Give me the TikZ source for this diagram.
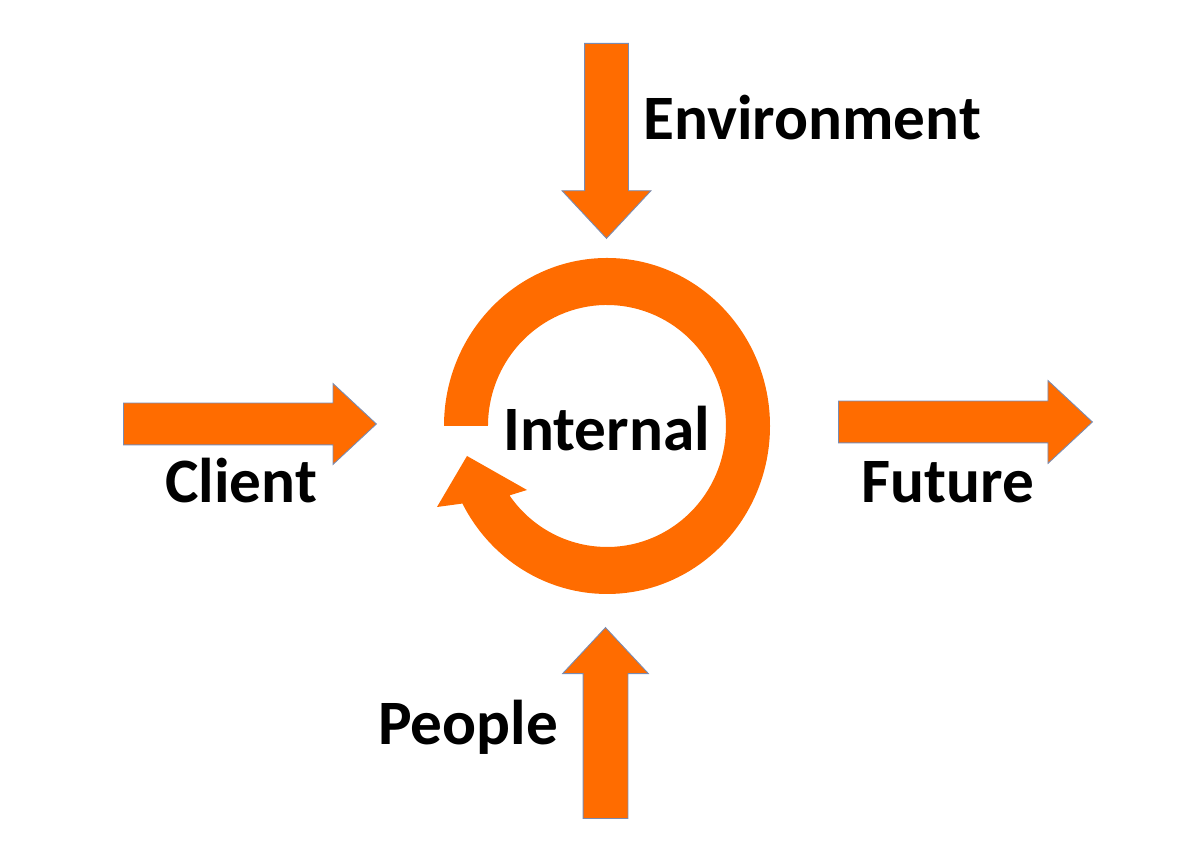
\documentclass[tikz,border=0pt]{standalone}
\usepackage{fontspec}
\setmainfont{Carlito}
\usetikzlibrary{shapes.arrows,positioning}
\definecolor{flow}{RGB}{255,108,0}
\definecolor{flowedge}{RGB}{120,140,180}

\begin{document}
\begin{tikzpicture}[x=0.02cm, y=0.02cm,
        block/.style={single arrow, anchor=tail, fill=flow, draw=flowedge, line width=0.5pt,
          inner xsep=0pt, inner ysep=0.42cm, text height=0pt, text depth=0pt, text width=0pt,
          single arrow tip angle=86, single arrow head extend=0.4cm},
        word/.style={anchor=base west, inner sep=0pt, font=\fontsize{36}{42}\selectfont\bfseries}
      ]
      \useasboundingbox (0,0) rectangle (1197,854);
      \coordinate (loop) at (607,428);

      % the four block arrows
      \node[block, minimum height=5.06cm, inner ysep=0.41cm, single arrow head extend=0.39cm] (clientarrow) at (123,430) {};
      \node[block, minimum height=5.08cm, inner ysep=0.41cm, single arrow head extend=0.41cm] (futurearrow) at (838,432) {};
      \node[block, rotate=-90, minimum height=3.9cm, inner ysep=0.43cm, single arrow head extend=0.45cm] (envarrow) at (606.5,811) {};
      \node[block, rotate=90, minimum height=3.82cm, inner ysep=0.44cm, single arrow head extend=0.41cm] (peoplearrow) at (605.5,35) {};

      % circular arrow round the middle
      \fill[flow] (loop) ++(180:163 and 168)
        arc[start angle=180, end angle=-152.5, x radius=163, y radius=168]
        -- (437,347) -- (467,398) -- (527,364) -- (509.5,358.6)
        arc[start angle=-145, end angle=180, x radius=119, y radius=121] -- cycle;

      \node[word] (internal) at (503,403) {Internal};
      \node[word] (environment) at (643,714) {Environment};
      \node[word] (client) at (165,351) {Client};
      \node[word] (future) at (861,351) {Future};
      \node[word] (people) at (378,109) {People};
    \end{tikzpicture}
\end{document}
